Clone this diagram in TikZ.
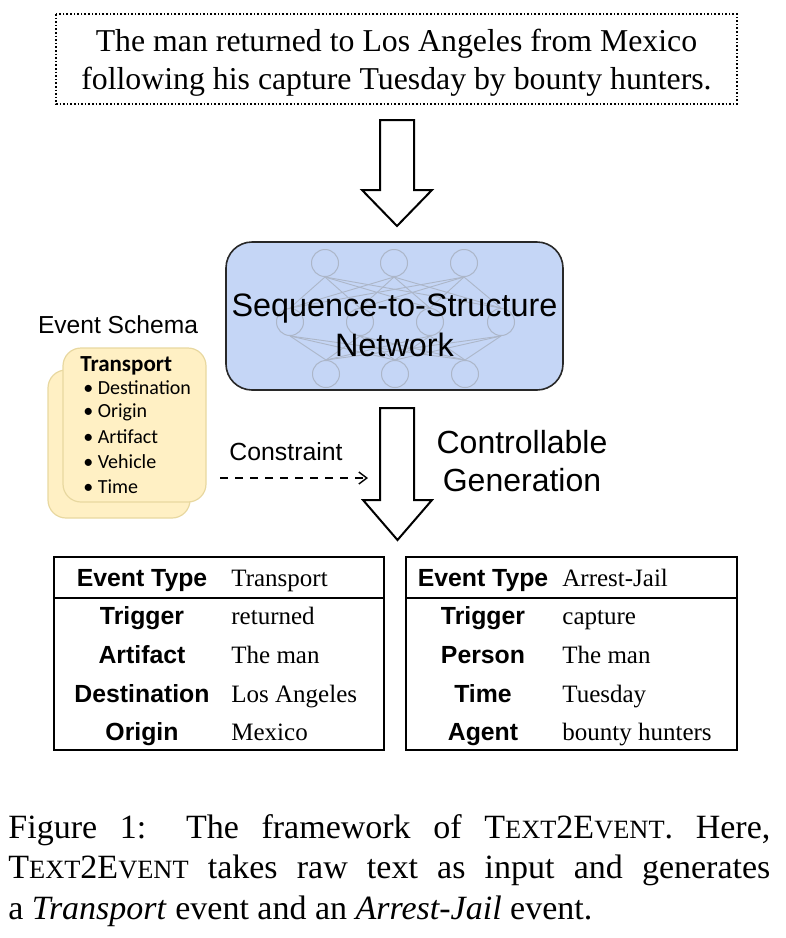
\documentclass[tikz,border=0pt]{standalone}
\usepackage{fontspec}
\usetikzlibrary{arrows.meta}
\setmainfont{Liberation Serif}
\setsansfont{Liberation Sans}
\newfontfamily\carlito{Carlito}
\definecolor{netblue}{RGB}{197,214,246}
\definecolor{netedge}{RGB}{40,40,40}
\definecolor{nncol}{RGB}{172,182,200}
\definecolor{cardfill}{RGB}{255,240,196}
\definecolor{cardedge}{RGB}{232,216,160}
\newcommand\tte{T{\fontsize{13.2}{14}\selectfont EXT}2E{\fontsize{13.2}{14}\selectfont VENT}}
\tikzset{
  bigarrow/.style={draw=black, line width=1pt, fill=white, line join=miter},
  card/.style={draw=cardedge, fill=cardfill, rounded corners=9pt, line width=0.6pt},
  neuron/.style={circle, draw=nncol, line width=0.5pt, minimum size=13.5pt, inner sep=0pt},
  nnlink/.style={draw=nncol, line width=0.45pt},
  cardtxt/.style={anchor=west, inner sep=0pt, font=\carlito\fontsize{10}{12}\selectfont},
  tlabel/.style={anchor=base, inner sep=0pt, font=\sffamily\bfseries\fontsize{12.4}{14}\selectfont},
  tvalue/.style={anchor=base west, inner sep=0pt, font=\fontsize{12.5}{14}\selectfont},
  tframe/.style={draw=black, line width=1pt},
}
\begin{document}
\begin{tikzpicture}[x=0.5pt,y=-0.5pt]
\useasboundingbox (0,0) rectangle (786,938);

% input sentence
\draw[densely dotted, line width=0.8pt] (56,14) rectangle (737,104);
\node (input) [align=center, inner sep=0pt, font=\fontsize{15.9}{19}\selectfont] at (396.5,63)
  {The man returned to Los Angeles from Mexico\\following his capture Tuesday by bounty hunters.};

% big arrow 1
\draw[bigarrow] (380,120) -- (414,120) -- (414,190) -- (432,190) -- (397,226) -- (362,190) -- (380,190) -- cycle;

% network box
\node (net) [draw=netedge, fill=netblue, rounded corners=13pt, line width=0.8pt,
  minimum width=168.5pt, minimum height=74pt] at (394.5,316) {};
\foreach \i/\x in {1/325,2/394,3/464} \node[neuron] (t\i) at (\x,263) {};
\foreach \i/\x in {1/290,2/360,3/430,4/501} \node[neuron] (m\i) at (\x,322) {};
\foreach \i/\x in {1/326,2/395,3/465} \node[neuron] (b\i) at (\x,374) {};
\foreach \i in {1,2,3} \foreach \j in {1,2,3,4} \draw[nnlink] (t\i.south) -- (m\j.north);
\foreach \i in {1,2,3} \foreach \j in {1,2,3,4} \draw[nnlink] (m\j.south) -- (b\i.north);
\node (nettext) [align=center, inner sep=0pt, font=\sffamily\fontsize{16.2}{20}\selectfont] at (394.5,325)
  {Sequence-to-Structure\\Network};

% event schema
\node (schema) [inner sep=0pt, font=\sffamily\fontsize{12.3}{14}\selectfont] at (118,325) {Event Schema};
\node (card2) [card, minimum width=71pt, minimum height=74pt] at (119,444) {};
\node (card1) [card, minimum width=71.5pt, minimum height=77pt] at (134.5,425) {};
\node (ctitle) [cardtxt, font=\carlito\bfseries\fontsize{11.5}{13}\selectfont] at (80,366) {Transport};
\node (c1) [cardtxt] at (83,388) {• Destination};
\node (c2) [cardtxt] at (83,412) {• Origin};
\node (c3) [cardtxt] at (83,437) {• Artifact};
\node (c4) [cardtxt] at (83,462) {• Vehicle};
\node (c5) [cardtxt] at (83,487) {• Time};

% constraint
\node (constraint) [inner sep=0pt, font=\sffamily\fontsize{12.4}{14}\selectfont] at (286,452) {Constraint};
\coordinate (cs) at (220,478);
\coordinate (ce) at (368,478);
\draw[dash pattern=on 4pt off 3.5pt, line width=0.7pt, -{Straight Barb[length=4pt,width=6pt]}] (cs) -- (ce);

% big arrow 2
\draw[bigarrow] (380,408) -- (414,408) -- (414,500) -- (432,500) -- (397.5,540) -- (363,500) -- (380,500) -- cycle;
\node (ctrl) [align=center, inner sep=0pt, font=\sffamily\fontsize{16}{19}\selectfont] at (522,461)
  {Controllable\\Generation};

% left table
\draw[tframe] (54,557) rectangle (384,750);
\draw[tframe] (54,598) -- (384,598);
\node[tlabel] (l0) at (142,586) {Event Type};
\node[tvalue] (v0) at (231,586) {Transport};
\node[tlabel] (l1) at (142,624) {Trigger};
\node[tvalue] (v1) at (231,624) {returned};
\node[tlabel] (l2) at (142,663) {Artifact};
\node[tvalue] (v2) at (231,663) {The man};
\node[tlabel] (l3) at (142,702) {Destination};
\node[tvalue] (v3) at (231,702) {Los Angeles};
\node[tlabel] (l4) at (142,740) {Origin};
\node[tvalue] (v4) at (231,740) {Mexico};

% right table
\draw[tframe] (406,557) rectangle (737,750);
\draw[tframe] (406,598) -- (737,598);
\node[tlabel] (r0) at (483,586) {Event Type};
\node[tvalue] (w0) at (562,586) {Arrest-Jail};
\node[tlabel] (r1) at (483,624) {Trigger};
\node[tvalue] (w1) at (562,624) {capture};
\node[tlabel] (r2) at (483,663) {Person};
\node[tvalue] (w2) at (562,663) {The man};
\node[tlabel] (r3) at (483,702) {Time};
\node[tvalue] (w3) at (562,702) {Tuesday};
\node[tlabel] (r4) at (483,740) {Agent};
\node[tvalue] (w4) at (562,740) {bounty hunters};

% caption
\node (caption) [anchor=north west, inner sep=0pt, text width=381pt, align=justify,
  font=\fontsize{17}{20.3}\selectfont] at (8,814)
  {Figure 1: The framework of \tte. Here,\linebreak \tte{} takes raw text as input and generates\linebreak a \textit{Transport} event and an \textit{Arrest-Jail} event.};
\end{tikzpicture}
\end{document}
